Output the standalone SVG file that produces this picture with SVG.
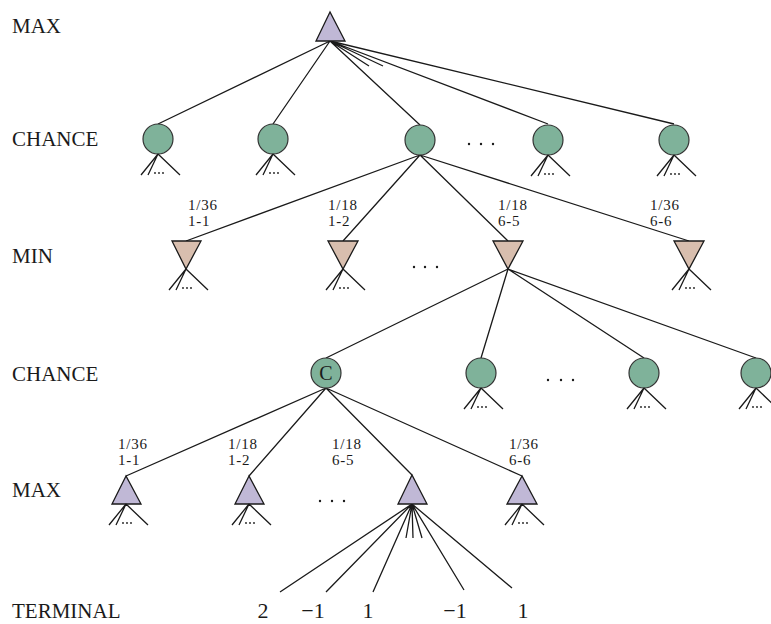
<svg xmlns="http://www.w3.org/2000/svg" xmlns:xlink="http://www.w3.org/1999/xlink" width="771" height="624" viewBox="0 0 771 624">
<style>
.lbl{font-family:"Liberation Serif","Times New Roman",serif;font-size:21px;fill:#1a1a1a}
.prob{font-family:"Liberation Serif","Times New Roman",serif;font-size:15px;fill:#1a1a1a;letter-spacing:0.8px}
.term{font-family:"Liberation Serif","Times New Roman",serif;font-size:22px;fill:#1a1a1a;text-anchor:middle}
.edge{stroke:#1a1a1a;stroke-width:1.3;fill:none}
.chance{fill:#7fb29a;stroke:#333;stroke-width:1.2}
.max{fill:#c0b8d6;stroke:#1a1a1a;stroke-width:1.3}
.min{fill:#d8beae;stroke:#1a1a1a;stroke-width:1.3}
.dot{fill:#1a1a1a}
</style>
<defs>
<g id="fan">
<path class="edge" d="M0 0L-17 21M0 0L-10 21M0 0L22 21"/>
<circle class="dot" cx="-3" cy="19" r="0.9"/><circle class="dot" cx="1" cy="19" r="0.9"/><circle class="dot" cx="5" cy="19" r="0.9"/>
</g>
</defs>
<rect width="771" height="624" fill="#fff"/>
<g id="row-labels">
<text class="lbl" x="12" y="33">MAX</text>
<text class="lbl" x="12" y="146">CHANCE</text>
<text class="lbl" x="12" y="263">MIN</text>
<text class="lbl" x="12" y="381">CHANCE</text>
<text class="lbl" x="12" y="497">MAX</text>
<text class="lbl" x="12" y="618">TERMINAL</text>
</g>
<g id="connectors">
<path class="edge" d="M330 41L158 124M330 41L273 124M330 41L420 125M330 41L369 66M330 41L383 66M330 41L548 124M330 41L674 124"/>
<path class="edge" d="M420 155L186 241M420 155L343 241M420 155L508 241M420 155L689 241"/>
<path class="edge" d="M508 269L326 358M508 269L481 358M508 269L644 358M508 269L756 358"/>
<path class="edge" d="M326 388L126 476M326 388L249 476M326 388L412 475M326 388L522 476"/>
<path class="edge" d="M412 504L280 592M412 504L326 592M412 504L373 592M412 504L406 538M412 504L413 538M412 504L422 538M412 504L464 590M412 504L512 588"/>
</g>
<g id="max-root"><polygon class="max" points="330,12 316,41 345,41"/></g>
<g id="chance-1"><circle class="chance" cx="158" cy="139" r="15"/><use xlink:href="#fan" x="158" y="154"/></g>
<g id="chance-2"><circle class="chance" cx="273" cy="139" r="15"/><use xlink:href="#fan" x="273" y="154"/></g>
<g id="chance-3"><circle class="chance" cx="420" cy="140" r="15"/></g>
<g id="chance-dots"><circle class="dot" cx="469" cy="144" r="1.2"/><circle class="dot" cx="481" cy="144" r="1.2"/><circle class="dot" cx="493" cy="144" r="1.2"/></g>
<g id="chance-4"><circle class="chance" cx="548" cy="140" r="15"/><use xlink:href="#fan" x="548" y="155"/></g>
<g id="chance-5"><circle class="chance" cx="674" cy="140" r="15"/><use xlink:href="#fan" x="674" y="155"/></g>
<g id="prob-labels-1">
<text class="prob" x="188" y="210">1/36</text><text class="prob" x="188" y="226">1-1</text>
<text class="prob" x="328" y="210">1/18</text><text class="prob" x="328" y="226">1-2</text>
<text class="prob" x="498" y="210">1/18</text><text class="prob" x="498" y="226">6-5</text>
<text class="prob" x="650" y="210">1/36</text><text class="prob" x="650" y="226">6-6</text>
</g>
<g id="min-1"><polygon class="min" points="172,241 201,241 186,269"/><use xlink:href="#fan" x="186" y="269"/></g>
<g id="min-2"><polygon class="min" points="328,241 358,241 343,269"/><use xlink:href="#fan" x="343" y="269"/></g>
<g id="min-dots"><circle class="dot" cx="414" cy="267" r="1.2"/><circle class="dot" cx="425" cy="267" r="1.2"/><circle class="dot" cx="437" cy="267" r="1.2"/></g>
<g id="min-3"><polygon class="min" points="493,241 523,241 508,269"/></g>
<g id="min-4"><polygon class="min" points="674,241 704,241 689,269"/><use xlink:href="#fan" x="689" y="269"/></g>
<g id="chance-c"><circle class="chance" cx="326" cy="373" r="15"/><text x="326" y="380" text-anchor="middle" font-family="Liberation Serif, serif" font-size="20" fill="#1a1a1a">C</text></g>
<g id="chance-r2-2"><circle class="chance" cx="481" cy="373" r="15" stroke-width="2" stroke="#1a1a1a"/><use xlink:href="#fan" x="481" y="388"/></g>
<g id="chance-r2-dots"><circle class="dot" cx="548" cy="380" r="1.2"/><circle class="dot" cx="561" cy="380" r="1.2"/><circle class="dot" cx="573" cy="380" r="1.2"/></g>
<g id="chance-r2-3"><circle class="chance" cx="644" cy="373" r="15"/><use xlink:href="#fan" x="644" y="388"/></g>
<g id="chance-r2-4"><circle class="chance" cx="756" cy="373" r="15"/><use xlink:href="#fan" x="756" y="388"/></g>
<g id="prob-labels-2">
<text class="prob" x="118" y="449">1/36</text><text class="prob" x="118" y="465">1-1</text>
<text class="prob" x="228" y="449">1/18</text><text class="prob" x="228" y="465">1-2</text>
<text class="prob" x="332" y="449">1/18</text><text class="prob" x="332" y="465">6-5</text>
<text class="prob" x="509" y="449">1/36</text><text class="prob" x="509" y="465">6-6</text>
</g>
<g id="max-1"><polygon class="max" points="126,476 112,504 141,504"/><use xlink:href="#fan" x="126" y="504"/></g>
<g id="max-2"><polygon class="max" points="249,476 235,504 264,504"/><use xlink:href="#fan" x="249" y="504"/></g>
<g id="max-dots"><circle class="dot" cx="320" cy="501" r="1.2"/><circle class="dot" cx="332" cy="501" r="1.2"/><circle class="dot" cx="344" cy="501" r="1.2"/></g>
<g id="max-3"><polygon class="max" points="412,475 398,504 427,504"/></g>
<g id="max-4"><polygon class="max" points="522,476 507,504 537,504"/><use xlink:href="#fan" x="522" y="504"/></g>
<g id="terminals">
<text class="term" x="263" y="618">2</text>
<text class="term" x="313" y="618">−1</text>
<text class="term" x="368" y="618">1</text>
<text class="term" x="455" y="618">−1</text>
<text class="term" x="523" y="618">1</text>
</g>
</svg>
